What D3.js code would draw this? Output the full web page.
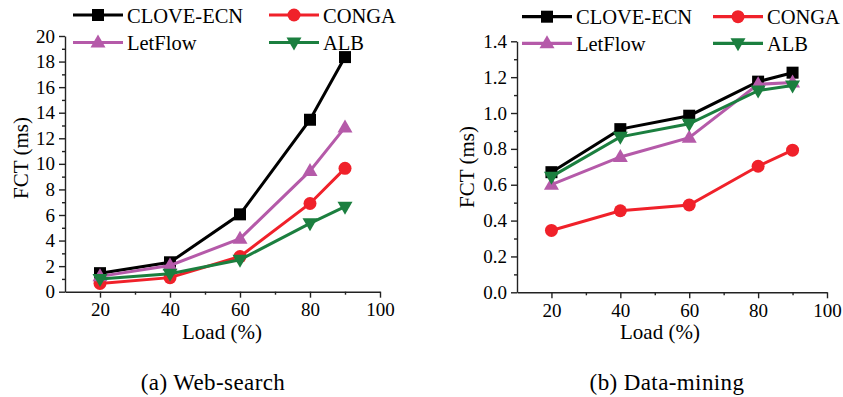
<!DOCTYPE html>
<html>
<head>
<meta charset="utf-8">
<script src="https://cdn.jsdelivr.net/npm/d3@7"></script>
<style>
  body { margin: 0; background: #fff; }
</style>
</head>
<body>
<script>
var loads = [20, 40, 60, 80, 90];
var seriesNames = ["CLOVE-ECN", "CONGA", "LetFlow", "ALB"];
var seriesColors = ["#000000", "#f0212a", "#b55aa9", "#1b7f3f"];
var seriesMarkers = ["square", "circle", "triangle", "down"];

var webSearch = {
  "CLOVE-ECN": [1.45, 2.3, 6.05, 13.45, 18.35],
  "CONGA": [0.65, 1.1, 2.75, 6.9, 9.65],
  "LetFlow": [1.2, 2.05, 4.15, 9.45, 12.85],
  "ALB": [1.0, 1.4, 2.5, 5.35, 6.65]
};
var dataMining = {
  "CLOVE-ECN": [0.67, 0.91, 0.985, 1.175, 1.225],
  "CONGA": [0.345, 0.455, 0.487, 0.703, 0.793],
  "LetFlow": [0.6, 0.755, 0.862, 1.16, 1.17],
  "ALB": [0.645, 0.867, 0.94, 1.125, 1.153]
};

var xMajor = [20, 40, 60, 80, 100];
var xMinor = [30, 50, 70, 90];
var yMajorA = [0, 2, 4, 6, 8, 10, 12, 14, 16, 18, 20];
var yMajorB = [0, 0.2, 0.4, 0.6, 0.8, 1.0, 1.2, 1.4];

var FONT = "'Liberation Serif', 'DejaVu Serif', serif";

var svg = d3.select("body").append("svg")
  .attr("width", 843)
  .attr("height", 397)
  .attr("font-family", FONT);

function drawMarker(g, type, cx, cy, color) {
  if (type == "square") {
    g.append("rect").attr("x", cx - 6).attr("y", cy - 6)
      .attr("width", 12).attr("height", 12).attr("fill", color);
  } else if (type == "circle") {
    g.append("circle").attr("cx", cx).attr("cy", cy).attr("r", 6.5).attr("fill", color);
  } else if (type == "triangle") {
    g.append("path").attr("d", "M" + cx + "," + (cy - 8) + "L" + (cx + 7.5) + "," + (cy + 5) +
      "L" + (cx - 7.5) + "," + (cy + 5) + "Z").attr("fill", color);
  } else {
    g.append("path").attr("d", "M" + cx + "," + (cy + 8) + "L" + (cx + 7.5) + "," + (cy - 5) +
      "L" + (cx - 7.5) + "," + (cy - 5) + "Z").attr("fill", color);
  }
}

function renderPanel(opt) {
  var x = d3.scaleLinear().domain([10, 100]).range(opt.xRange);
  var y = d3.scaleLinear().domain(opt.yDomain).range(opt.yRange);
  var g = svg.append("g");

  // x axis, major + minor ticks
  g.append("g").attr("transform", "translate(0," + opt.yRange[0] + ")")
    .call(d3.axisBottom(x).tickValues(xMajor).tickSize(6).tickSizeOuter(0).tickPadding(5));
  g.append("g").attr("transform", "translate(0," + opt.yRange[0] + ")")
    .call(d3.axisBottom(x).tickValues(xMinor).tickSize(3).tickFormat(""))
    .select(".domain").remove();

  // y axis
  g.append("g").attr("transform", "translate(" + opt.xRange[0] + ",0)")
    .call(d3.axisLeft(y).tickValues(opt.yMajor).tickSize(6).tickSizeOuter(0).tickPadding(4)
      .tickFormat(opt.fmt));
  g.append("g").attr("transform", "translate(" + opt.xRange[0] + ",0)")
    .call(d3.axisLeft(y).tickValues(opt.yMinor).tickSize(3).tickFormat(""))
    .select(".domain").remove();

  g.selectAll("g").attr("font-family", null);
  g.selectAll(".tick text").attr("font-size", 19).style("font-family", FONT);
  g.selectAll(".domain, .tick line").attr("stroke", "#222").attr("stroke-width", 1.4);

  // axis titles
  g.append("text").attr("x", opt.loadX).attr("y", 339).attr("text-anchor", "middle")
    .attr("font-size", 21).style("font-family", FONT).text("Load (%)");
  g.append("text").attr("transform", "translate(" + opt.fctX + "," + opt.fctY + ") rotate(-90)")
    .attr("text-anchor", "middle").attr("font-size", 21).style("font-family", FONT).text("FCT (ms)");
  g.append("text").attr("x", opt.capX).attr("y", 390).attr("text-anchor", "middle")
    .attr("font-size", 23).attr("letter-spacing", 0.4).style("font-family", FONT).text(opt.caption);

  // lines
  var line = d3.line().x(function(d, i) { return x(loads[i]); }).y(function(d) { return y(d); });
  for (var s = 0; s < seriesNames.length; s++) {
    var name = seriesNames[s];
    var sg = g.append("g");
    sg.append("path").datum(opt.data[name]).attr("d", line)
      .attr("fill", "none").attr("stroke", seriesColors[s]).attr("stroke-width", 3);
    for (var i = 0; i < loads.length; i++) {
      drawMarker(sg, seriesMarkers[s], x(loads[i]), y(opt.data[name][i]), seriesColors[s]);
    }
  }

  // legend: two columns, two rows
  for (var k = 0; k < seriesNames.length; k++) {
    var lx = opt.legX[k % 2];
    var ly = opt.legY[Math.floor(k / 2)];
    var lg = g.append("g");
    lg.append("line").attr("x1", lx).attr("x2", lx + 50).attr("y1", ly).attr("y2", ly)
      .attr("stroke", seriesColors[k]).attr("stroke-width", 3.2);
    drawMarker(lg, seriesMarkers[k], lx + 25, ly, seriesColors[k]);
    lg.append("text").attr("x", lx + 54).attr("y", ly + 7.5)
      .attr("font-size", 20.5).style("font-family", FONT).text(seriesNames[k]);
  }
}

renderPanel({
  data: webSearch,
  xRange: [65, 380],
  yDomain: [0, 20],
  yRange: [291.7, 36],
  yMajor: yMajorA,
  yMinor: d3.range(1, 20, 2),
  fmt: d3.format("d"),
  loadX: 222,
  fctX: 28, fctY: 158,
  capX: 213,
  caption: "(a) Web-search",
  legX: [73, 269],
  legY: [15, 42.5]
});

renderPanel({
  data: dataMining,
  xRange: [517, 827],
  yDomain: [0, 1.4],
  yRange: [292.3, 41.3],
  yMajor: yMajorB,
  yMinor: [0.1, 0.3, 0.5, 0.7, 0.9, 1.1, 1.3],
  fmt: d3.format(".1f"),
  loadX: 660,
  fctX: 474, fctY: 167,
  capX: 667,
  caption: "(b) Data-mining",
  legX: [522, 713],
  legY: [16.7, 43.3]
});
</script>
</body>
</html>
